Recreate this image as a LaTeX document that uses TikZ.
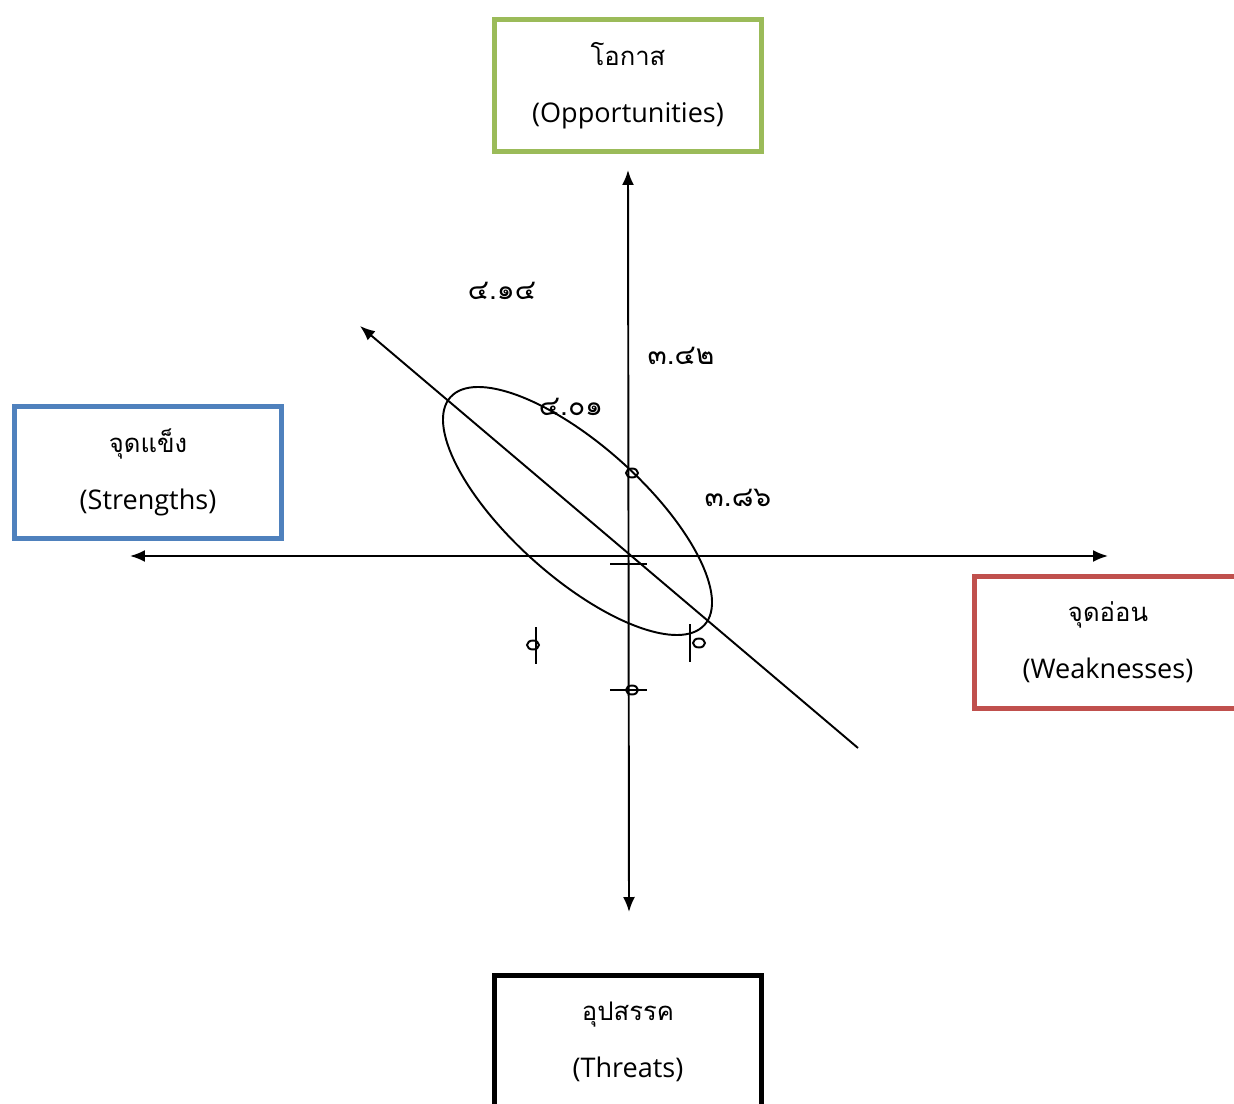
\documentclass[tikz,border=0pt]{standalone}
\usepackage{fontspec}
\setmainfont{Open Sans}
\newfontfamily\thaifont[Script=Thai]{Loma}
\usepackage{xcolor}
\usetikzlibrary{calc,arrows.meta}
\definecolor{oppgreen}{RGB}{155,187,89}
\definecolor{strblue}{RGB}{79,129,189}
\definecolor{weakred}{RGB}{192,80,77}
\tikzstyle{swot}=[draw, line width=3pt, minimum width=5.34cm, minimum height=2.64cm, inner sep=0pt, align=center, font=\fontsize{15.4}{32.5}\selectfont]
\tikzstyle{score}=[font=\thaifont\fontsize{16}{18}\selectfont, inner sep=1pt]
\tikzstyle{axis}=[line width=1.1pt, {Latex[length=0.3cm,width=0.24cm]}-{Latex[length=0.3cm,width=0.24cm]}]

\begin{document}
\begin{tikzpicture}[x=0.02cm,y=-0.02cm]
\path[use as bounding box, clip] (0,0) rectangle (1234,1104);
% four boxes
\node[swot, draw=oppgreen] (opp) at (628,85.5) {{\thaifont\fontsize{14.6}{32.5}\selectfont โอกาส}\\(Opportunities)};
\node[swot, draw=strblue] (str) at (148,472.5) {{\thaifont\fontsize{14.6}{32.5}\selectfont จุดแข็ง}\\(Strengths)};
\node[swot, draw=weakred] (weak) at (1108,642.5) {{\thaifont\fontsize{14.6}{32.5}\selectfont จุดอ่อน}\\(Weaknesses)};
\node[swot, draw=black] (thr) at (628,1041.5) {{\thaifont\fontsize{14.6}{32.5}\selectfont อุปสรรค}\\(Threats)};
% axes
\coordinate (ytop) at (628,170);
\coordinate (ybot) at (629,912);
\coordinate (xleft) at (130,556);
\coordinate (xright) at (1108,556);
\coordinate (dtip) at (360,326);
\coordinate (dend) at (858,748);
\draw[axis] (ytop) -- (ybot);
\draw[axis] (xleft) -- (xright);
\draw[line width=1.1pt, -{Latex[length=0.3cm,width=0.24cm]}] (dend) -- (dtip);
\draw[line width=1.1pt, rotate around={-41.85:(577.5,511)}] (577.5,511) ellipse [x radius=170.6, y radius=66];
% marks
\foreach \x/\y in {632/473,632/690,533/645,699/643} {
	\draw[line width=1.1pt] (\x,\y) ellipse [x radius=6, y radius=4.5];
}
\draw[line width=1.1pt] (610,564) -- (647,564);
\draw[line width=1.1pt] (610,690) -- (647,690);
\draw[line width=1.1pt] (536,627) -- (536,664);
\draw[line width=1.1pt] (690,624) -- (690,662);
% scores
\node[score] (s1) at (502,291) {๔.๑๔};
\node[score] (s2) at (681,356) {๓.๔๒};
\node[score] (s3) at (571,407) {๔.๐๑};
\node[score] (s4) at (738,498) {๓.๘๖};
\end{tikzpicture}
\end{document}
